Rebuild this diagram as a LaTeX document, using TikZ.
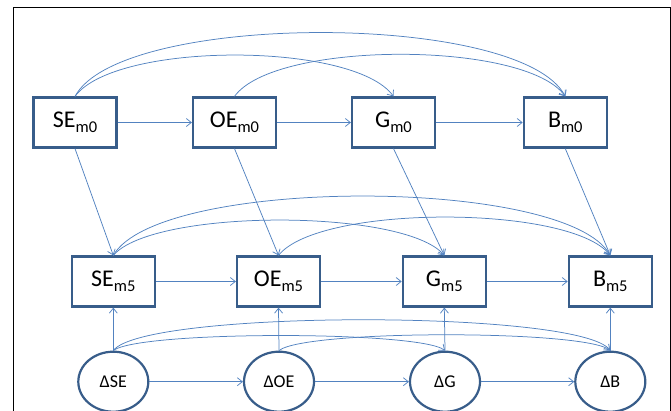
\documentclass[tikz,border=0pt]{standalone}
\usepackage{fontspec}
\setmainfont{Carlito}
\usetikzlibrary{arrows.meta,shapes.geometric}
\definecolor{boxblue}{HTML}{385D8A}
\definecolor{linkblue}{HTML}{5282C0}
\newcommand\lowsub[1]{{\fontsize{16.5}{16.5}\selectfont\raisebox{-4.5pt}{#1}}}
\begin{document}
\begin{tikzpicture}[x=1pt,y=-1pt,
  box/.style={draw=boxblue,line width=2.2pt,minimum width=83pt,minimum height=50pt,inner sep=0pt,font=\fontsize{24}{26}\selectfont},
  oval/.style={ellipse,draw=boxblue,line width=2.2pt,minimum width=70pt,minimum height=60pt,inner sep=0pt,font=\fontsize{18}{20}\selectfont},
  link/.style={draw=linkblue,line width=0.75pt,-{Straight Barb[length=5pt,width=8pt]}}]
\useasboundingbox (0,0) rectangle (671,410);
\clip (0,0) rectangle (671,410);
\draw[black,line width=1.3pt] (13.3,425) -- (13.3,7.5) -- (670.5,7.5) -- (670.5,425);
% row 1
\node[box] (se0) at (75,122.5) {SE\lowsub{m0}};
\node[box] (oe0) at (234.5,122.5) {OE\lowsub{m0}};
\node[box] (g0) at (393.5,122.5) {G\lowsub{m0}};
\node[box] (b0) at (565.3,122.5) {B\lowsub{m0}};
% row 2
\node[box] (se5) at (113.3,281.5) {SE\lowsub{m5}};
\node[box] (oe5) at (278.5,281.5) {OE\lowsub{m5}};
\node[box] (g5) at (444.3,281.5) {G\lowsub{m5}};
\node[box] (b5) at (610.3,281.5) {B\lowsub{m5}};
% row 3
\node[oval] (dse) at (113.3,381.7) {ΔSE};
\node[oval] (doe) at (279,381.7) {ΔOE};
\node[oval] (dg) at (445,381.7) {ΔG};
\node[oval] (db) at (610.3,381.7) {ΔB};
% horizontal
\draw[link] (se0) -- (oe0);
\draw[link] (oe0) -- (g0);
\draw[link] (g0) -- (b0);
\draw[link] (se5) -- (oe5);
\draw[link] (oe5) -- (g5);
\draw[link] (g5) -- (b5);
\draw[link] (dse) -- (doe);
\draw[link] (doe) -- (dg);
\draw[link] (dg) -- (db);
% row 1 arcs
\draw[link] (se0.north) .. controls +(45,-85) and +(-45,-85) .. (b0.north);
\draw[link] (se0.north) .. controls +(40,-55) and +(-40,-55) .. (g0.north);
\draw[link] (oe0.north) .. controls +(40,-56) and +(-40,-56) .. (b0.north);
% row1 -> row2
\draw[link] (se0.south) -- (se5.north);
\draw[link] (oe0.south) -- (oe5.north);
\draw[link] (g0.south) -- (g5.north);
\draw[link] (b0.south) -- (b5.north);
% row 2 arcs
\draw[link] (se5.north) .. controls +(45,-79) and +(-45,-79) .. (b5.north);
\draw[link] (se5.north) .. controls +(40,-47) and +(-40,-47) .. (g5.north);
\draw[link] (oe5.north) .. controls +(40,-51) and +(-40,-51) .. (b5.north);
% row3 -> row2
\draw[link] (dse.north) -- (se5.south);
\draw[link] (doe.north) -- (oe5.south);
\draw[link] (dg.north) -- (g5.south);
\draw[link] (db.north) -- (b5.south);
% row 3 arcs
\draw[link] (dse.north) .. controls +(30,-41) and +(-30,-41) .. (db.north);
\draw[link] (dse.north) .. controls +(25,-20) and +(-25,-20) .. (dg.north);
\draw[link] (doe.north) .. controls +(25,-21) and +(-25,-21) .. (db.north);
\end{tikzpicture}
\end{document}
